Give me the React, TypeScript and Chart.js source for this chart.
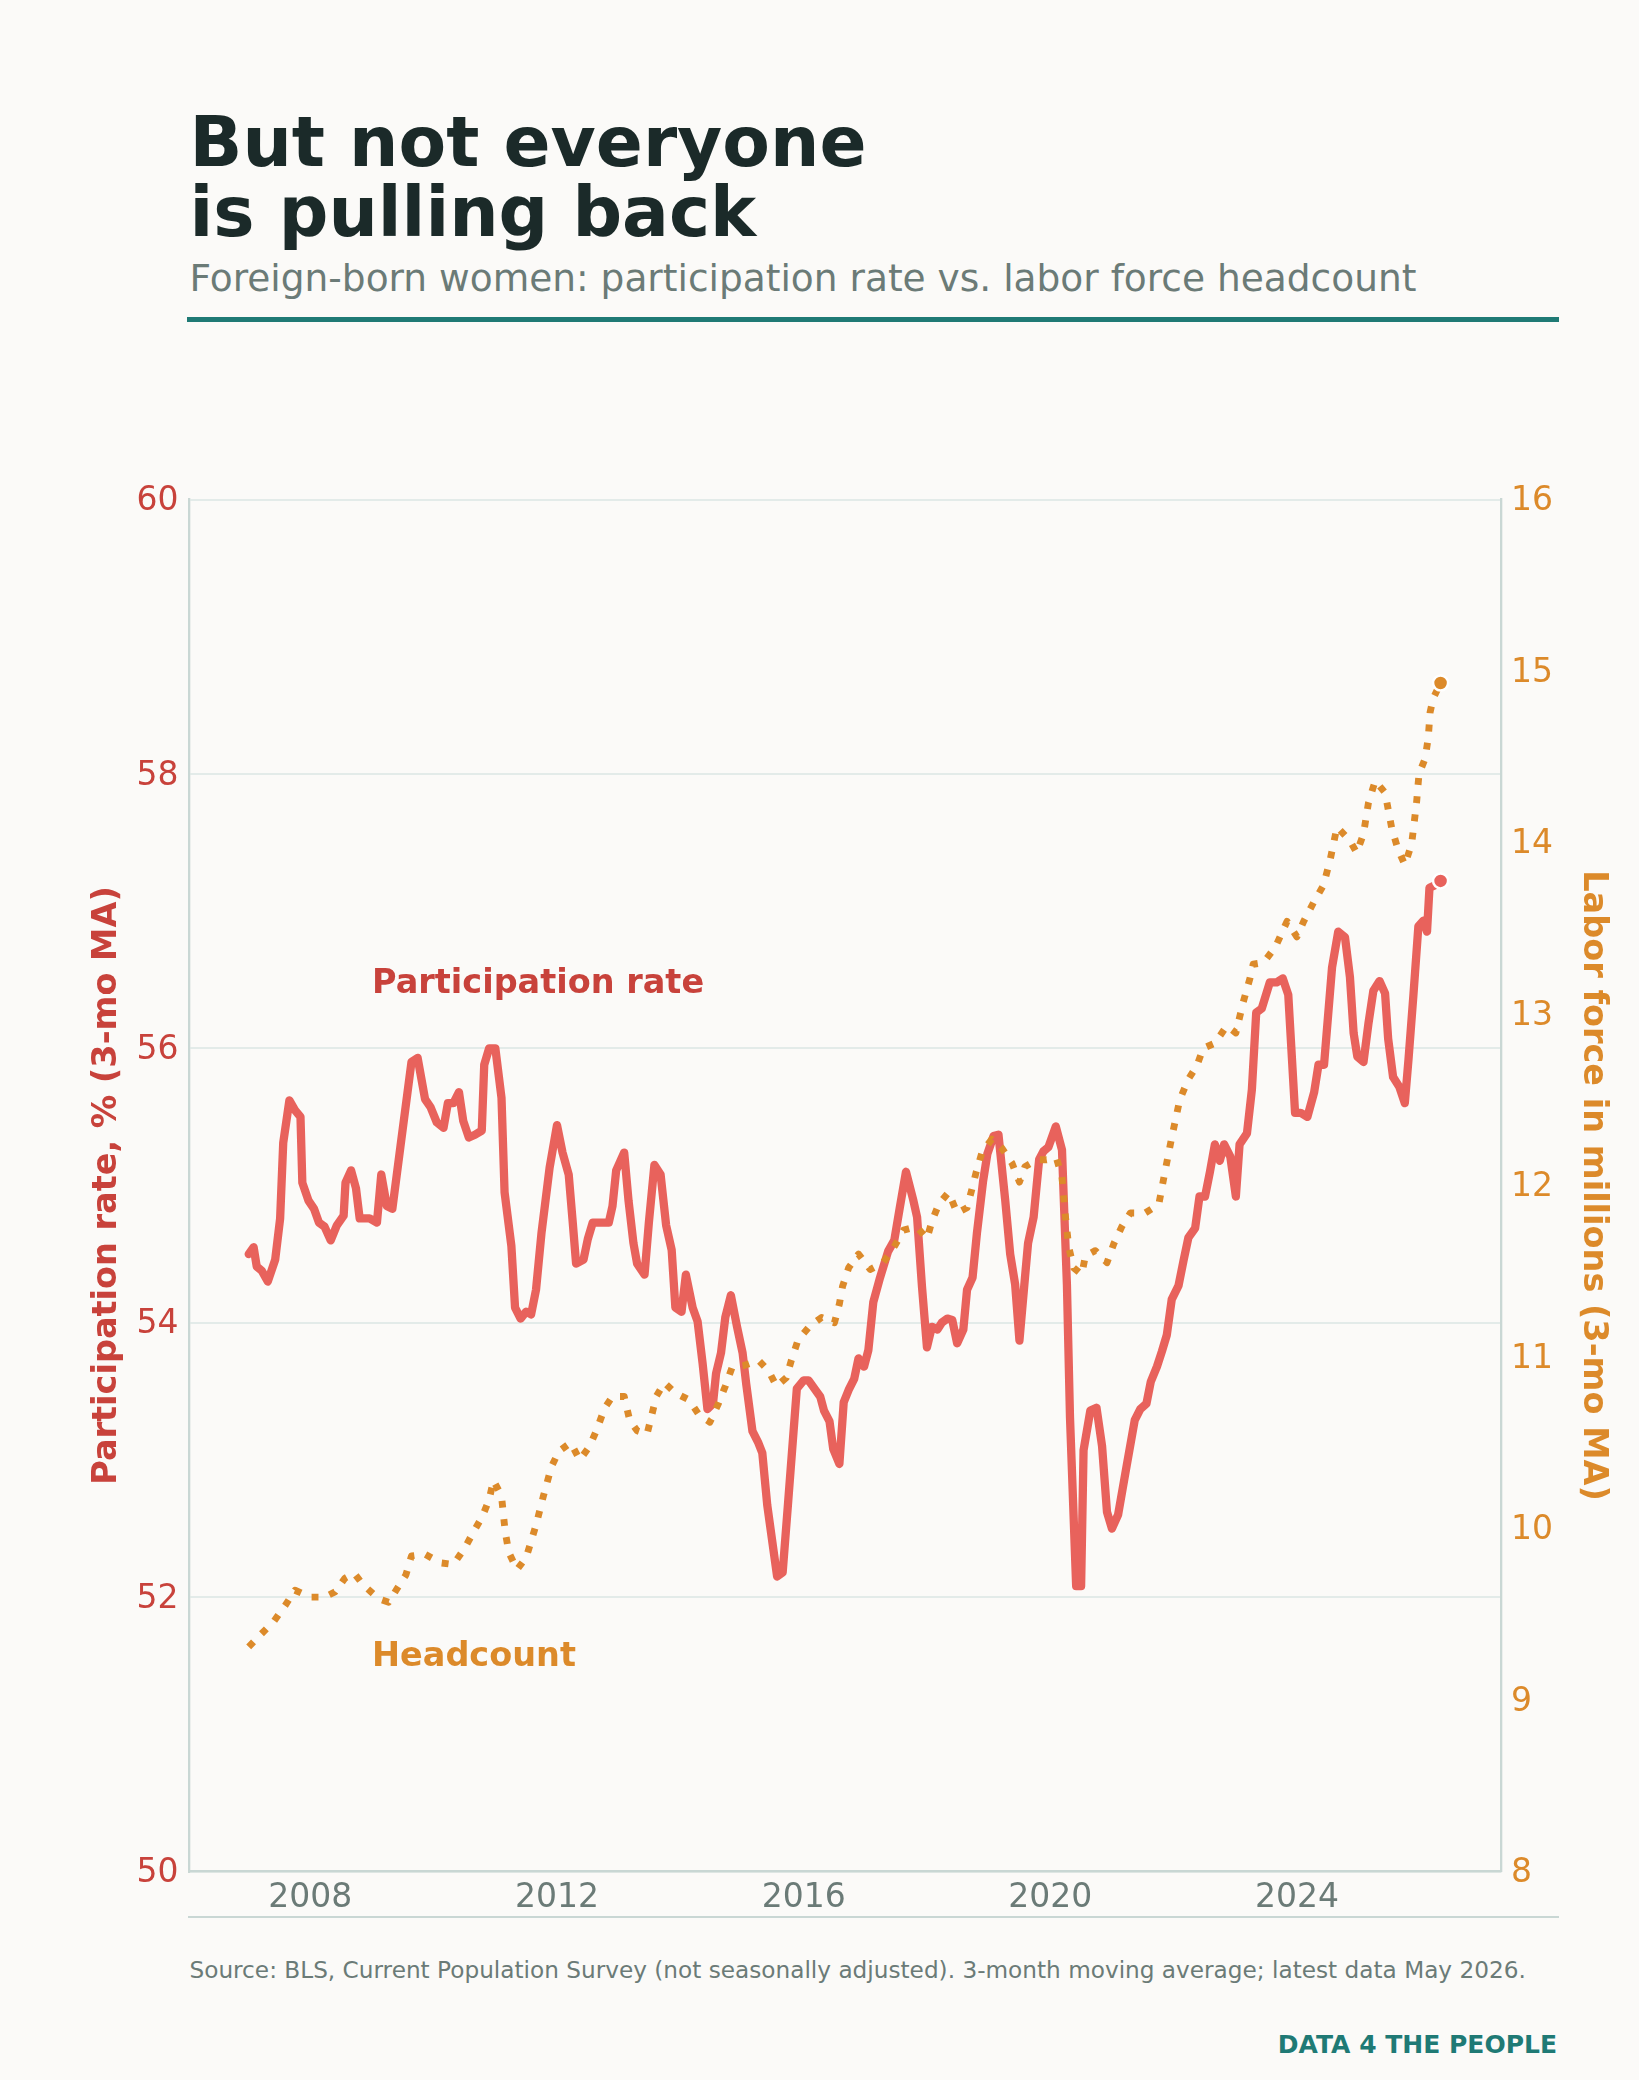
import React, { useEffect, useRef } from "react";
import { Chart, registerables } from "chart.js";

Chart.register(...registerables);

// ---------- data ----------
const rateYears = [
  2007.0, 2007.08, 2007.13, 2007.21, 2007.31, 2007.43, 2007.51, 2007.56, 2007.66, 2007.75,
  2007.84, 2007.87, 2007.97, 2008.06, 2008.14, 2008.23, 2008.33, 2008.43, 2008.54, 2008.57,
  2008.66, 2008.74, 2008.8, 2008.96, 2009.08, 2009.15, 2009.24, 2009.33, 2009.46, 2009.64,
  2009.74, 2009.86, 2009.95, 2010.05, 2010.16, 2010.23, 2010.32, 2010.41, 2010.48, 2010.57,
  2010.67, 2010.78, 2010.82, 2010.9, 2011.0, 2011.1, 2011.15, 2011.26, 2011.32, 2011.41,
  2011.5, 2011.58, 2011.66, 2011.75, 2011.88, 2012.0, 2012.09, 2012.19, 2012.25, 2012.31,
  2012.43, 2012.5, 2012.58, 2012.84, 2012.9, 2012.96, 2013.09, 2013.16, 2013.24, 2013.3,
  2013.42, 2013.49, 2013.58, 2013.68, 2013.77, 2013.86, 2013.92, 2014.02, 2014.09, 2014.2,
  2014.28, 2014.36, 2014.44, 2014.53, 2014.58, 2014.66, 2014.73, 2014.82, 2014.92, 2015.01,
  2015.07, 2015.17, 2015.26, 2015.33, 2015.41, 2015.57, 2015.66, 2015.75, 2015.89, 2016.0,
  2016.08, 2016.19, 2016.27, 2016.33, 2016.42, 2016.48, 2016.58, 2016.65, 2016.73, 2016.82,
  2016.89, 2016.98, 2017.05, 2017.13, 2017.24, 2017.37, 2017.47, 2017.56, 2017.66, 2017.78,
  2017.84, 2017.92, 2018.0, 2018.08, 2018.17, 2018.24, 2018.33, 2018.41, 2018.49, 2018.59,
  2018.65, 2018.74, 2018.81, 2018.91, 2018.98, 2019.08, 2019.16, 2019.27, 2019.35, 2019.43,
  2019.5, 2019.59, 2019.64, 2019.73, 2019.82, 2019.89, 2019.97, 2020.09, 2020.19, 2020.27,
  2020.32, 2020.42, 2020.5, 2020.54, 2020.65, 2020.75, 2020.84, 2020.92, 2021.0, 2021.1,
  2021.24, 2021.37, 2021.46, 2021.56, 2021.63, 2021.73, 2021.81, 2021.89, 2021.97, 2022.08,
  2022.16, 2022.24, 2022.35, 2022.42, 2022.51, 2022.59, 2022.67, 2022.75, 2022.82, 2022.92,
  2023.01, 2023.07, 2023.19, 2023.27, 2023.34, 2023.43, 2023.56, 2023.67, 2023.77, 2023.86,
  2023.97, 2024.06, 2024.17, 2024.28, 2024.35, 2024.44, 2024.57, 2024.67, 2024.78, 2024.86,
  2024.92, 2024.98, 2025.08, 2025.16, 2025.24, 2025.34, 2025.43, 2025.48, 2025.56, 2025.66,
  2025.75, 2025.81, 2025.89, 2025.97, 2026.05, 2026.11, 2026.15, 2026.25, 2026.33,
];
const rateValues = [
  54.5, 54.55, 54.41, 54.38, 54.3, 54.46, 54.76, 55.31, 55.62, 55.55,
  55.5, 55.02, 54.89, 54.83, 54.73, 54.7, 54.6, 54.71, 54.78, 55.02,
  55.11, 54.98, 54.76, 54.76, 54.73, 55.08, 54.85, 54.83, 55.28, 55.9,
  55.93, 55.63, 55.57, 55.46, 55.42, 55.6, 55.6, 55.68, 55.47, 55.35,
  55.37, 55.4, 55.88, 56.0, 56.0, 55.64, 54.95, 54.56, 54.11, 54.03,
  54.08, 54.06, 54.24, 54.66, 55.13, 55.44, 55.24, 55.08, 54.76, 54.43,
  54.46, 54.61, 54.73, 54.73, 54.85, 55.11, 55.24, 54.89, 54.58, 54.43,
  54.35, 54.73, 55.15, 55.08, 54.71, 54.53, 54.11, 54.08, 54.35, 54.11,
  54.01, 53.71, 53.37, 53.41, 53.63, 53.78, 54.04, 54.2, 53.97, 53.78,
  53.55, 53.21, 53.13, 53.05, 52.67, 52.15, 52.18, 52.7, 53.52, 53.58,
  53.58, 53.51, 53.46, 53.36, 53.28, 53.08, 52.97, 53.42, 53.51, 53.59,
  53.74, 53.68, 53.8, 54.15, 54.33, 54.52, 54.6, 54.84, 55.1, 54.89,
  54.77, 54.26, 53.82, 53.97, 53.95, 54.0, 54.03, 54.02, 53.85, 53.95,
  54.24, 54.33, 54.65, 55.03, 55.23, 55.36, 55.37, 54.89, 54.5, 54.28,
  53.87, 54.33, 54.58, 54.77, 55.19, 55.25, 55.28, 55.43, 55.26, 54.28,
  53.31, 52.08, 52.08, 53.07, 53.36, 53.38, 53.1, 52.62, 52.5, 52.6,
  52.96, 53.29, 53.37, 53.41, 53.57, 53.68, 53.79, 53.91, 54.17, 54.27,
  54.45, 54.62, 54.69, 54.92, 54.92, 55.1, 55.3, 55.18, 55.3, 55.21,
  54.92, 55.3, 55.38, 55.7, 56.26, 56.29, 56.48, 56.48, 56.51, 56.39,
  55.53, 55.53, 55.5, 55.68, 55.88, 55.88, 56.59, 56.85, 56.81, 56.52,
  56.11, 55.94, 55.9, 56.18, 56.42, 56.49, 56.4, 56.07, 55.79, 55.72,
  55.6, 55.92, 56.39, 56.89, 56.93, 56.85, 57.17, 57.19, 57.22,
];

const countYears = [
  2007.0, 2007.19, 2007.41, 2007.59, 2007.75, 2008.0, 2008.23, 2008.4, 2008.56, 2008.71,
  2008.86, 2009.11, 2009.27, 2009.39, 2009.55, 2009.64, 2009.86, 2010.11, 2010.32, 2010.51,
  2010.63, 2010.79, 2010.9, 2010.97, 2011.1, 2011.16, 2011.22, 2011.35, 2011.5, 2011.66,
  2011.78, 2011.91, 2012.03, 2012.22, 2012.37, 2012.53, 2012.65, 2012.77, 2012.9, 2013.09,
  2013.18, 2013.3, 2013.46, 2013.55, 2013.61, 2013.74, 2013.92, 2014.14, 2014.29, 2014.48,
  2014.62, 2014.73, 2014.84, 2015.03, 2015.27, 2015.43, 2015.56, 2015.72, 2015.8, 2015.91,
  2016.1, 2016.29, 2016.5, 2016.58, 2016.63, 2016.73, 2016.89, 2017.08, 2017.29, 2017.48,
  2017.62, 2017.83, 2018.0, 2018.08, 2018.19, 2018.35, 2018.49, 2018.65, 2018.73, 2018.8,
  2018.89, 2019.05, 2019.21, 2019.38, 2019.5, 2019.59, 2019.78, 2019.94, 2020.1, 2020.19,
  2020.24, 2020.3, 2020.38, 2020.51, 2020.57, 2020.73, 2020.92, 2021.03, 2021.16, 2021.3,
  2021.54, 2021.76, 2021.86, 2021.97, 2022.1, 2022.24, 2022.38, 2022.48, 2022.67, 2022.86,
  2023.01, 2023.13, 2023.24, 2023.29, 2023.46, 2023.65, 2023.84, 2024.0, 2024.11, 2024.27,
  2024.43, 2024.54, 2024.65, 2024.86, 2024.97, 2025.08, 2025.16, 2025.27, 2025.43, 2025.54,
  2025.64, 2025.75, 2025.86, 2025.94, 2025.98, 2026.08, 2026.13, 2026.16, 2026.21, 2026.33,
];
const countValues = [
  9.31, 9.38, 9.46, 9.55, 9.64, 9.6, 9.6, 9.63, 9.71, 9.74,
  9.67, 9.59, 9.57, 9.64, 9.73, 9.84, 9.85, 9.8, 9.79, 9.89,
  9.97, 10.07, 10.17, 10.28, 10.19, 9.98, 9.86, 9.76, 9.83, 10.02,
  10.19, 10.36, 10.45, 10.5, 10.4, 10.48, 10.58, 10.7, 10.77, 10.77,
  10.63, 10.57, 10.55, 10.68, 10.77, 10.85, 10.79, 10.75, 10.67, 10.62,
  10.73, 10.83, 10.94, 10.95, 10.98, 10.92, 10.83, 10.88, 10.98, 11.1,
  11.18, 11.23, 11.2, 11.31, 11.41, 11.52, 11.6, 11.51, 11.55, 11.65,
  11.74, 11.76, 11.69, 11.79, 11.89, 11.96, 11.84, 11.87, 11.98, 12.08,
  12.19, 12.27, 12.22, 12.13, 12.02, 12.11, 12.15, 12.15, 12.16, 12.05,
  11.84, 11.64, 11.52, 11.48, 11.59, 11.62, 11.55, 11.66, 11.76, 11.84,
  11.84, 11.89, 12.08, 12.28, 12.5, 12.62, 12.7, 12.8, 12.83, 12.93,
  12.89, 13.07, 13.21, 13.29, 13.3, 13.39, 13.54, 13.45, 13.54, 13.65,
  13.75, 13.9, 14.09, 14.01, 13.94, 14.05, 14.23, 14.36, 14.29, 14.08,
  13.96, 13.87, 13.99, 14.23, 14.4, 14.49, 14.61, 14.76, 14.84, 14.93,
];

const xTickYears = [2008, 2012, 2016, 2020, 2024];
const rateTicks = [50, 52, 54, 56, 58, 60];
const countTicks = [8, 9, 10, 11, 12, 13, 14, 15, 16];

const seriesNames = ["Participation rate", "Headcount"];
const axisTitles = ["Participation rate, % (3-mo MA)", "Labor force in millions (3-mo MA)"];
const titleLines = ["But not everyone", "is pulling back"];
const subtitleText = "Foreign-born women: participation rate vs. labor force headcount";
const sourceText =
  "Source: BLS, Current Population Survey (not seasonally adjusted). 3-month moving average; latest data May 2026.";
const brandText = "DATA 4 THE PEOPLE";

// ---------- styles ----------
const BG = "#fbfaf8";
const RED_LINE = "#e8625c";
const RED_TEXT = "#c8423b";
const ORANGE = "#dc8a2a";
const GRAY = "#6b7b77";
const TEAL = "#1f7a75";
const SPINE = "#c9d7d4";
const GRID = "#e3ebe9";
const TITLE = "#1b2a29";
const FONT = '"DejaVu Sans", sans-serif';

const CANVAS_TOP = 440;
const CANVAS_W = 1639;
const CANVAS_H = 1500;
const PLOT_LEFT = 189.5;
const PLOT_RIGHT = 1501;
const PLOT_TOP = 499.5;
const PLOT_BOTTOM = 1871.5;
const TEXT_LEFT = 189.5;

const X_MIN = 2006.04;
const X_MAX = 2027.31;

export default function App() {
  const ref = useRef<HTMLCanvasElement | null>(null);

  useEffect(() => {
    document.body.style.margin = "0";
    document.body.style.background = BG;
    const canvas = ref.current;
    if (!canvas) return;

    const ratePts = rateYears.map((x, i) => ({ x, y: rateValues[i] }));
    const countPts = countYears.map((x, i) => ({ x, y: countValues[i] }));
    const rateLast = ratePts.length - 1;
    const countLast = countPts.length - 1;

    const overlay = {
      id: "overlay",
      afterDatasetsDraw(chart: any) {
        const { ctx, scales } = chart;
        ctx.save();
        ctx.font = `bold 33.5px ${FONT}`;
        ctx.textAlign = "left";
        ctx.textBaseline = "alphabetic";
        ctx.fillStyle = RED_TEXT;
        ctx.fillText(seriesNames[0], scales.x.getPixelForValue(2009), scales.y.getPixelForValue(56.4));
        ctx.fillStyle = ORANGE;
        ctx.fillText(seriesNames[1], scales.x.getPixelForValue(2009), scales.y1.getPixelForValue(9.2));
        ctx.restore();
      },
      afterDraw(chart: any) {
        const { ctx, chartArea } = chart;
        const cy = (chartArea.top + chartArea.bottom) / 2;
        ctx.save();
        ctx.font = `bold 33.5px ${FONT}`;
        ctx.textAlign = "center";
        ctx.textBaseline = "middle";
        ctx.fillStyle = RED_TEXT;
        ctx.translate(107, cy);
        ctx.rotate(-Math.PI / 2);
        ctx.fillText(axisTitles[0], 0, 0);
        ctx.restore();
        ctx.save();
        ctx.font = `bold 33.5px ${FONT}`;
        ctx.textAlign = "center";
        ctx.textBaseline = "middle";
        ctx.fillStyle = ORANGE;
        ctx.translate(1593, cy);
        ctx.rotate(Math.PI / 2);
        ctx.fillText(axisTitles[1], 0, 0);
        ctx.restore();
      },
    };

    const chart = new Chart(canvas, {
      type: "line",
      data: {
        datasets: [
          {
            label: seriesNames[1],
            data: countPts,
            yAxisID: "y1",
            borderColor: ORANGE,
            backgroundColor: ORANGE,
            borderWidth: 6.9,
            borderDash: [6.9, 11.4],
            borderCapStyle: "butt",
            borderJoinStyle: "round",
            tension: 0,
            fill: false,
            pointRadius: (c: any) => (c.dataIndex === countLast ? 7.5 : 0),
            pointBackgroundColor: ORANGE,
            pointBorderColor: "#ffffff",
            pointBorderWidth: 2.5,
            pointHoverRadius: 0,
          },
          {
            label: seriesNames[0],
            data: ratePts,
            yAxisID: "y",
            borderColor: RED_LINE,
            backgroundColor: RED_LINE,
            borderWidth: 8.3,
            borderCapStyle: "round",
            borderJoinStyle: "round",
            tension: 0,
            fill: false,
            pointRadius: (c: any) => (c.dataIndex === rateLast ? 7.5 : 0),
            pointBackgroundColor: RED_LINE,
            pointBorderColor: "#ffffff",
            pointBorderWidth: 2.5,
            pointHoverRadius: 0,
          },
        ],
      },
      options: {
        animation: false,
        responsive: false,
        maintainAspectRatio: false,
        devicePixelRatio: 1,
        layout: { padding: { top: PLOT_TOP - CANVAS_TOP, left: 0, right: 0, bottom: 0 } },
        plugins: { legend: { display: false }, tooltip: { enabled: false } },
        events: [],
        scales: {
          x: {
            type: "linear",
            position: "bottom",
            min: X_MIN,
            max: X_MAX,
            afterBuildTicks: (s: any) => {
              s.ticks = xTickYears.map((v) => ({ value: v }));
            },
            afterFit: (s: any) => {
              s.height = CANVAS_H - (PLOT_BOTTOM - CANVAS_TOP);
            },
            grid: { display: false, drawTicks: false },
            border: { display: true, color: SPINE, width: 2.3 },
            ticks: {
              color: GRAY,
              font: { family: FONT, size: 33 },
              padding: 7,
              maxRotation: 0,
              autoSkip: false,
              callback: (v: any) => String(v),
            },
          },
          y: {
            type: "linear",
            position: "left",
            min: 50,
            max: 60,
            afterBuildTicks: (s: any) => {
              s.ticks = rateTicks.map((v) => ({ value: v }));
            },
            afterFit: (s: any) => {
              s.width = PLOT_LEFT;
            },
            grid: { color: GRID, lineWidth: 2, drawTicks: false },
            border: { display: true, color: SPINE, width: 2.3 },
            ticks: {
              color: RED_TEXT,
              font: { family: FONT, size: 33 },
              padding: 11,
              labelOffset: 2.2,
              callback: (v: any) => String(v),
            },
          },
          y1: {
            type: "linear",
            position: "right",
            min: 8,
            max: 16,
            afterBuildTicks: (s: any) => {
              s.ticks = countTicks.map((v) => ({ value: v }));
            },
            afterFit: (s: any) => {
              s.width = CANVAS_W - PLOT_RIGHT;
            },
            grid: { display: false, drawTicks: false, drawOnChartArea: false },
            border: { display: true, color: SPINE, width: 2.3 },
            ticks: {
              color: ORANGE,
              font: { family: FONT, size: 33 },
              padding: 10,
              labelOffset: 2.2,
              callback: (v: any) => String(v),
            },
          },
        },
      } as any,
      plugins: [overlay],
    });

    return () => chart.destroy();
  }, []);

  return (
    <div
      style={{
        position: "relative",
        width: 1639,
        height: 2080,
        background: BG,
        overflow: "hidden",
        fontFamily: FONT,
      }}
    >
      <div
        style={{
          position: "absolute",
          left: TEXT_LEFT,
          top: 107.1,
          fontSize: 69.4,
          fontWeight: "bold",
          lineHeight: "70px",
          color: TITLE,
          whiteSpace: "nowrap",
        }}
      >
        {titleLines[0]}
        <br />
        {titleLines[1]}
      </div>
      <div
        style={{
          position: "absolute",
          left: TEXT_LEFT,
          top: 260,
          fontSize: 37.5,
          lineHeight: "37.5px",
          color: GRAY,
          whiteSpace: "nowrap",
        }}
      >
        {subtitleText}
      </div>
      <div style={{ position: "absolute", left: 187, top: 317, width: 1372, height: 5, background: TEAL }} />
      <canvas
        ref={ref}
        width={CANVAS_W}
        height={CANVAS_H}
        style={{ position: "absolute", left: 0, top: CANVAS_TOP, width: CANVAS_W, height: CANVAS_H }}
      />
      <div style={{ position: "absolute", left: 188, top: 1916.2, width: 1371, height: 2.3, background: SPINE }} />
      <div
        style={{
          position: "absolute",
          left: TEXT_LEFT,
          top: 1958.1,
          fontSize: 23.2,
          lineHeight: "23.2px",
          color: GRAY,
          whiteSpace: "nowrap",
        }}
      >
        {sourceText}
      </div>
      <div
        style={{
          position: "absolute",
          right: 82,
          top: 2032.2,
          fontSize: 25,
          lineHeight: "25px",
          fontWeight: "bold",
          color: TEAL,
          whiteSpace: "nowrap",
        }}
      >
        {brandText}
      </div>
    </div>
  );
}
